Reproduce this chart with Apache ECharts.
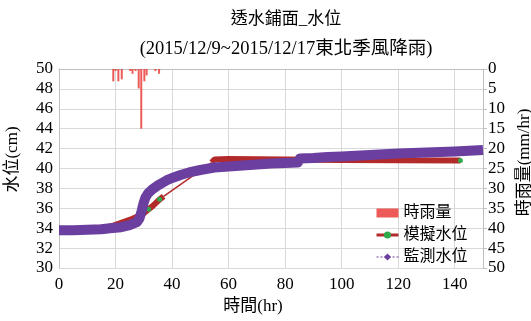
<!DOCTYPE html>
<html><head><meta charset="utf-8">
<script src="https://cdn.jsdelivr.net/npm/echarts@6/dist/echarts.min.js"></script>
<style>html,body{margin:0;padding:0;background:#fff}#c{width:531px;height:321px}</style>
</head><body><div id="c"></div>
<script>
// Hourly rainfall (mm/hr)
var rainHours = [19.2, 20, 21, 22.2, 25.2, 26, 27.1, 28.2, 29.1, 30.2, 31, 34.1, 35.4];
var rainValues = [3.1, 0.5, 3.1, 2.6, 0.5, 1.2, 0.5, 4.9, 15, 3.1, 1.6, 0.5, 1.2];

// Observed water level (cm)
var obsHours = [0, 5, 10, 15, 18, 20, 22, 25, 27.5, 28.5, 29.3, 30, 30.6, 31.5, 33, 35, 38, 40, 43, 46, 50, 55, 60, 65, 70, 75, 80, 84.5, 85.2, 90, 95, 100, 110, 120, 130, 140, 150];
var obsLevel = [33.8, 33.8, 33.85, 33.9, 34.0, 34.05, 34.1, 34.3, 34.6, 35.0, 35.8, 36.6, 37.1, 37.5, 37.9, 38.3, 38.8, 39.05, 39.35, 39.6, 39.85, 40.1, 40.2, 40.3, 40.4, 40.5, 40.55, 40.6, 41.0, 41.05, 41.15, 41.2, 41.35, 41.5, 41.6, 41.7, 41.85];

// Simulated water level (cm): rising segment and plateau segment
var simRiseHours = [0, 10, 18, 20, 22, 24, 26, 28, 30, 31.7, 33, 35.6, 37];
var simRise = [33.9, 33.9, 34.15, 34.35, 34.55, 34.75, 34.95, 35.2, 35.5, 35.9, 36.2, 36.9, 37.2];
var simFlatHours = [54, 55, 60, 80, 100, 120, 142];
var simFlat = [40.6, 40.9, 40.95, 40.9, 40.85, 40.82, 40.8];
var simMarkHours = [31.7, 35.6, 142];

// Axis ticks
var xTicks = {min: 0, max: 150, step: 20};
var levelTicks = {min: 30, max: 50, step: 2};
var rainTicks = {min: 0, max: 50, step: 5};

function pairs(xs, ys) { return xs.map(function (x, i) { return [x, ys[i]]; }); }

var serif = "'Liberation Serif','Times New Roman','Noto Sans CJK TC',serif";
var riseData = pairs(simRiseHours, simRise);
var flatData = pairs(simFlatHours, simFlat);
var markSym = function (v) { return simMarkHours.indexOf(v[0]) >= 0 ? 5 : 0; };

var chart = echarts.init(document.getElementById('c'), null, {renderer: 'canvas'});
chart.setOption({
  animation: false,
  backgroundColor: '#fff',
  title: [
    {text: '透水鋪面_水位', left: 281, textAlign: 'center', top: 6, textStyle: {fontFamily: serif, fontSize: 17, fontWeight: 'normal', color: '#000'}},
    {text: '(2015/12/9~2015/12/17東北季風降雨)', left: 281, textAlign: 'center', top: 35, textStyle: {fontFamily: serif, fontSize: 18.5, fontWeight: 'normal', color: '#000'}}
  ],
  grid: {left: 59, right: 48, top: 69, bottom: 53, containLabel: false, outerBoundsMode: 'none'},
  legend: {
    orient: 'vertical', left: 370, top: 199, itemWidth: 22, itemHeight: 9, itemGap: 4,
    textStyle: {fontFamily: serif, fontSize: 16, color: '#000', lineHeight: 18},
    data: [
      {name: '時雨量', icon: 'rect'},
      {name: '模擬水位', lineStyle: {width: 3}},
      {name: '監測水位', lineStyle: {width: 1, type: [2, 2]}, itemStyle: {color: '#6b3fa0'}}
    ]
  },
  xAxis: {
    type: 'value', min: xTicks.min, max: xTicks.max, interval: xTicks.step,
    name: '時間(hr)', nameLocation: 'middle', nameGap: 29,
    nameTextStyle: {fontFamily: serif, fontSize: 17, color: '#000', padding: [0, 36, 0, 0]},
    axisLine: {lineStyle: {color: '#bfbfbf'}}, axisTick: {show: false},
    axisLabel: {fontFamily: serif, fontSize: 17, color: '#000', margin: 8, showMaxLabel: false},
    splitLine: {show: true, lineStyle: {color: '#d9d9d9'}}
  },
  yAxis: [
    {
      type: 'value', min: levelTicks.min, max: levelTicks.max, interval: levelTicks.step,
      name: '水位(cm)', nameLocation: 'middle', nameGap: 38, nameRotate: 90,
      nameTextStyle: {fontFamily: serif, fontSize: 17, color: '#000', padding: [0, 0, 0, 18]},
      axisLine: {show: true, lineStyle: {color: '#bfbfbf'}}, axisTick: {show: false},
      axisLabel: {fontFamily: serif, fontSize: 17, color: '#000', margin: 6},
      splitLine: {show: true, lineStyle: {color: '#d9d9d9'}}
    },
    {
      type: 'value', min: rainTicks.min, max: rainTicks.max, interval: rainTicks.step, inverse: true,
      position: 'right',
      name: '時雨量(mm/hr)', nameLocation: 'middle', nameGap: 32, nameRotate: 90,
      nameTextStyle: {fontFamily: serif, fontSize: 17, color: '#000', padding: [0, 0, 0, 12]},
      axisLine: {show: true, lineStyle: {color: '#bfbfbf'}},
      axisTick: {show: true, length: 4, lineStyle: {color: '#bfbfbf'}},
      axisLabel: {fontFamily: serif, fontSize: 17, color: '#000', margin: 5},
      splitLine: {show: false}
    }
  ],
  series: [
    {
      name: '時雨量', type: 'bar', yAxisIndex: 1, barWidth: 2,
      itemStyle: {color: '#e8322f', opacity: 0.8},
      data: pairs(rainHours, rainValues)
    },
    {
      name: '模擬水位', type: 'line', yAxisIndex: 0, z: 3,
      symbol: 'circle', symbolSize: 0, showSymbol: false,
      itemStyle: {color: '#2faa4a'},
      lineStyle: {color: '#b22a2a', width: 1.5},
      data: [riseData[riseData.length - 1], flatData[0]]
    },
    {
      name: '模擬水位', type: 'line', yAxisIndex: 0, z: 3,
      symbol: 'circle', symbolSize: markSym, showSymbol: true,
      itemStyle: {color: '#2faa4a', borderWidth: 0},
      lineStyle: {color: '#b22a2a', width: 6},
      data: riseData
    },
    {
      name: '模擬水位', type: 'line', yAxisIndex: 0, z: 3,
      symbol: 'circle', symbolSize: markSym, showSymbol: true,
      itemStyle: {color: '#2faa4a', borderWidth: 0},
      lineStyle: {color: '#b22a2a', width: 6},
      data: flatData
    },
    {
      name: '監測水位', type: 'line', yAxisIndex: 0, z: 4,
      symbol: 'diamond', showSymbol: false,
      itemStyle: {color: '#6b3fa0'},
      lineStyle: {color: '#6b3fa0', width: 10, cap: 'butt', join: 'round'},
      data: pairs(obsHours, obsLevel)
    }
  ]
});
</script></body></html>
